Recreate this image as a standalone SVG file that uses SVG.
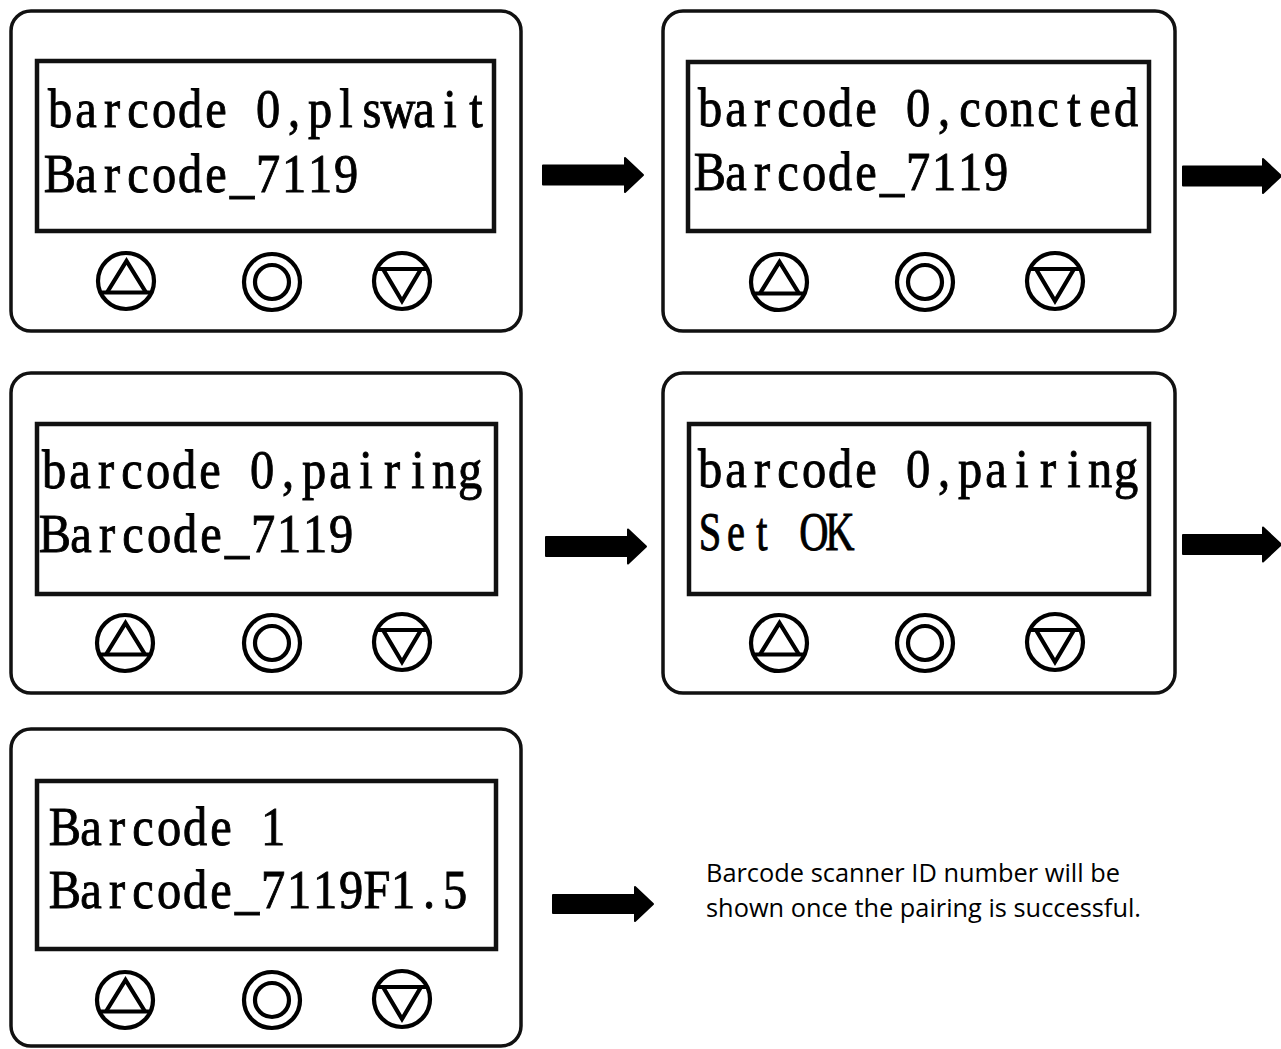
<svg xmlns="http://www.w3.org/2000/svg" xmlns:xlink="http://www.w3.org/1999/xlink" width="1281" height="1049" viewBox="0 0 1281 1049">
<style>
.body{fill:#fff;stroke:#111;stroke-width:3.5}
.screen{fill:#fff;stroke:#111;stroke-width:4.5}
.btn{fill:none;stroke:#000;stroke-width:4.2;stroke-linejoin:miter}
.lcd{font-family:"Liberation Serif","Noto Sans CJK SC",serif;font-size:54px;fill:#000;stroke:#000;stroke-width:0.9;text-anchor:middle}
.note{font-family:"Open Sans","Noto Sans",sans-serif;font-size:26px;fill:#000}
.arrow{fill:#000;stroke:#000;stroke-width:2;stroke-linejoin:round}
</style>
<defs>
  <g id="btn-up" class="btn"><circle r="28"/><line x1="-25.5" y1="11.5" x2="25.5" y2="11.5"/><polyline points="-19,11.5 0.5,-20 20,11.5"/></g>
  <g id="btn-ok" class="btn"><circle r="28"/><circle r="17"/></g>
  <g id="btn-down" class="btn"><circle r="28"/><line x1="-25.5" y1="-12" x2="25.5" y2="-12"/><polyline points="-19,-12 0,20 19,-12"/></g>
</defs>
<rect width="1281" height="1049" fill="#fff"/>

<g id="device1">
  <rect class="body" x="11" y="11" width="510" height="320" rx="20"/>
  <rect class="screen" x="37" y="61" width="457" height="170"/>
  <text class="lcd" transform="translate(47,127) scale(0.8966,1)" x="14.5 43.5 72.5 101.5 130.5 159.5 188.5 217.5 246.5 275.5 304.5 333.5 362.5 391.5 420.5 449.5 478.5">barcode 0,plswait</text>
  <text class="lcd" transform="translate(47,192) scale(0.8966,1)" x="14.5 43.5 72.5 101.5 130.5 159.5 188.5 217.5 246.5 275.5 304.5 333.5">Barcode_7119</text>
  <use xlink:href="#btn-up" href="#btn-up" x="126" y="281"/>
  <use xlink:href="#btn-ok" href="#btn-ok" x="272" y="282"/>
  <use xlink:href="#btn-down" href="#btn-down" x="402" y="281"/>
</g>

<g id="device2">
  <rect class="body" x="663" y="11" width="512" height="320" rx="20"/>
  <rect class="screen" x="688" y="62" width="461" height="169"/>
  <text class="lcd" transform="translate(697,126) scale(0.8966,1)" x="14.5 43.5 72.5 101.5 130.5 159.5 188.5 217.5 246.5 275.5 304.5 333.5 362.5 391.5 420.5 449.5 478.5">barcode 0,concted</text>
  <text class="lcd" transform="translate(697,190) scale(0.8966,1)" x="14.5 43.5 72.5 101.5 130.5 159.5 188.5 217.5 246.5 275.5 304.5 333.5">Barcode_7119</text>
  <use xlink:href="#btn-up" href="#btn-up" x="779" y="282"/>
  <use xlink:href="#btn-ok" href="#btn-ok" x="925" y="282"/>
  <use xlink:href="#btn-down" href="#btn-down" x="1055" y="281"/>
</g>

<g id="device3">
  <rect class="body" x="11" y="373" width="510" height="320" rx="20"/>
  <rect class="screen" x="37" y="424" width="459" height="170"/>
  <text class="lcd" transform="translate(41,488) scale(0.8966,1)" x="14.5 43.5 72.5 101.5 130.5 159.5 188.5 217.5 246.5 275.5 304.5 333.5 362.5 391.5 420.5 449.5 478.5">barcode 0,pairing</text>
  <text class="lcd" transform="translate(42,552) scale(0.8966,1)" x="14.5 43.5 72.5 101.5 130.5 159.5 188.5 217.5 246.5 275.5 304.5 333.5">Barcode_7119</text>
  <use xlink:href="#btn-up" href="#btn-up" x="125" y="643"/>
  <use xlink:href="#btn-ok" href="#btn-ok" x="272" y="643"/>
  <use xlink:href="#btn-down" href="#btn-down" x="402" y="642"/>
</g>

<g id="device4">
  <rect class="body" x="663" y="373" width="512" height="320" rx="20"/>
  <rect class="screen" x="689" y="424" width="460" height="170"/>
  <text class="lcd" transform="translate(697,487) scale(0.8966,1)" x="14.5 43.5 72.5 101.5 130.5 159.5 188.5 217.5 246.5 275.5 304.5 333.5 362.5 391.5 420.5 449.5 478.5">barcode 0,pairing</text>
  <text class="lcd" transform="translate(697,550) scale(0.75,1)" x="17.33 52 86.67 121.33 156 190.67">Set OK</text>
  <use xlink:href="#btn-up" href="#btn-up" x="779" y="643"/>
  <use xlink:href="#btn-ok" href="#btn-ok" x="925" y="643"/>
  <use xlink:href="#btn-down" href="#btn-down" x="1055" y="642"/>
</g>

<g id="device5">
  <rect class="body" x="11" y="729" width="510" height="317" rx="20"/>
  <rect class="screen" x="37" y="781" width="459" height="168"/>
  <text class="lcd" transform="translate(52,845) scale(0.8966,1)" x="14.5 43.5 72.5 101.5 130.5 159.5 188.5 217.5 246.5">Barcode 1</text>
  <text class="lcd" transform="translate(52,908) scale(0.8966,1)" x="14.5 43.5 72.5 101.5 130.5 159.5 188.5 217.5 246.5 275.5 304.5 333.5 362.5 391.5 420.5 449.5">Barcode_7119F1.5</text>
  <use xlink:href="#btn-up" href="#btn-up" x="125" y="1000"/>
  <use xlink:href="#btn-ok" href="#btn-ok" x="272" y="1000"/>
  <use xlink:href="#btn-down" href="#btn-down" x="402" y="999"/>
</g>

<g id="note">
  <text class="note" x="706" y="882" textLength="414" lengthAdjust="spacingAndGlyphs">Barcode scanner ID number will be</text>
  <text class="note" x="706" y="917" textLength="435" lengthAdjust="spacingAndGlyphs">shown once the pairing is successful.</text>
</g>

<g id="connectors">
  <path class="arrow" d="M543,165.5 H625 V158 L643,175 L625,192 V184.5 H543 Z"/>
  <path class="arrow" d="M1183,166.5 H1263 V159 L1281,176 L1263,193 V185.5 H1183 Z"/>
  <path class="arrow" d="M546,537 H628 V529.5 L646,546.5 L628,563.5 V556 H546 Z"/>
  <path class="arrow" d="M1183,535 H1263 V527.5 L1281,544.5 L1263,561.5 V554 H1183 Z"/>
  <path class="arrow" d="M553,895 H635 V887 L653,904 L635,921 V913 H553 Z"/>
</g>
</svg>
